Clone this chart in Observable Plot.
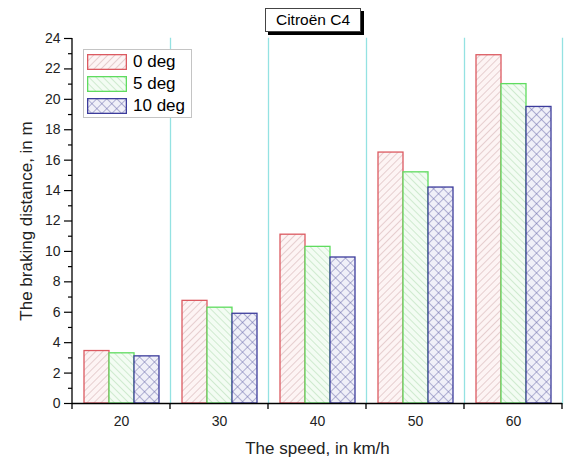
<!DOCTYPE html>
<html>
<head>
<meta charset="utf-8">
<script src="https://cdn.jsdelivr.net/npm/d3@7"></script>
<script src="https://cdn.jsdelivr.net/npm/@observablehq/plot@0.6"></script>
<style>
  body { margin: 0; background: #fff; font-family: Arial, "Liberation Sans", sans-serif; }
  #wrap { position: relative; width: 569px; height: 461px; overflow: hidden; }
  #title { position: absolute; left: 265px; top: 8px; width: 94px; height: 22px; border: 1px solid #444;
    background: #fff; box-shadow: 3px 3px 0 #000; font-size: 15.5px; line-height: 22px; text-align: center; color: #000; }
  #legend { position: absolute; left: 83px; top: 49px; width: 107px; height: 67px; border: 1px solid #c4c4c4;
    background: #fff; }
  .row { position: absolute; left: 3px; height: 16px; display: flex; align-items: center; }
  .row span { margin-left: 6px; font-size: 17px; color: #000; }
</style>
</head>
<body>
<svg width="0" height="0" style="position:absolute">
  <defs>
    <pattern id="hatch0" patternUnits="userSpaceOnUse" width="5" height="5" patternTransform="rotate(45)">
      <rect width="5" height="5" fill="#fdf4f4"></rect>
      <line x1="0" y1="0" x2="0" y2="5" stroke="#cfa9aa" stroke-width="1"></line>
    </pattern>
    <pattern id="hatch1" patternUnits="userSpaceOnUse" width="5" height="5" patternTransform="rotate(-45)">
      <rect width="5" height="5" fill="#f3fcf3"></rect>
      <line x1="0" y1="0" x2="0" y2="5" stroke="#acd9ac" stroke-width="1"></line>
    </pattern>
    <pattern id="hatch2" patternUnits="userSpaceOnUse" width="7" height="7" patternTransform="rotate(45)">
      <rect width="7" height="7" fill="#f0f0f8"></rect>
      <line x1="0" y1="0" x2="0" y2="7" stroke="#6c6cac" stroke-width="1"></line>
      <line x1="0" y1="0" x2="7" y2="0" stroke="#6c6cac" stroke-width="1"></line>
    </pattern>
  </defs>
</svg>
<div id="wrap"></div>
<script>
const speeds = [20, 30, 40, 50, 60];
const series = ["0 deg", "5 deg", "10 deg"];
const dist0 = [3.45, 6.75, 11.1, 16.5, 22.9];
const dist5 = [3.3, 6.3, 10.3, 15.2, 21.0];
const dist10 = [3.1, 5.9, 9.6, 14.2, 19.5];
const yTicks = [0, 2, 4, 6, 8, 10, 12, 14, 16, 18, 20, 22, 24];
const yMinorTicks = [1, 3, 5, 7, 9, 11, 13, 15, 17, 19, 21, 23];
const titleText = "Citroën C4";
const xLabel = "The speed, in km/h";
const yLabel = "The braking distance, in m";

const seriesValues = [dist0, dist5, dist10];
const rows = series.flatMap((s, i) => speeds.map((v, j) => ({speed: v, deg: s, dist: seriesValues[i][j]})));
const fills = ["url(#hatch0)", "url(#hatch1)", "url(#hatch2)"];
const strokes = ["#dc5a61", "#5fdc5f", "#3c3c9c"];

const plot = Plot.plot({
  width: 569,
  height: 461,
  marginLeft: 71,
  marginRight: 7,
  marginTop: 38,
  marginBottom: 58,
  style: {fontFamily: "Arial, 'Liberation Sans', sans-serif", fontSize: "14px", background: "#fff", color: "#000", overflow: "visible"},
  fx: {domain: speeds, padding: 0, label: null},
  x: {domain: series, paddingInner: 0, paddingOuter: 0.385, axis: null},
  y: {domain: [0, 24], axis: null},
  marks: [
    Plot.frame({anchor: "right", stroke: "#94e2e2", strokeWidth: 1.3}),
    ...series.map((s, i) => Plot.barY(rows.filter(d => d.deg === s), {
      fx: "speed", x: "deg", y: "dist", fill: fills[i], stroke: strokes[i], strokeWidth: 1.3
    })),
    Plot.ruleY([0], {stroke: "#000", strokeWidth: 1.3}),
    Plot.axisY({ticks: yTicks, tickSize: 8, tickPadding: 4, fontSize: 14, fill: "#222", label: yLabel, labelAnchor: "center", labelArrow: "none", labelOffset: 53, strokeWidth: 1.2}),
    Plot.axisY({ticks: yMinorTicks, tickSize: 4, tickFormat: () => "", label: null, strokeWidth: 1.2}),
    Plot.axisFx({anchor: "bottom", tickSize: 0, tickPadding: 13, fontSize: 14, fill: "#222", label: xLabel, labelAnchor: "center", labelArrow: "none", labelOffset: 50})
  ]
});

// axis label sizes (and strip any arrow)
d3.select(plot).selectAll('g[aria-label="y-axis label"] text, g[aria-label="fx-axis label"] text')
  .attr("font-size", 17)
  .each(function() { this.textContent = this.textContent.replace(/\s*[↑→↓←]\s*/g, ""); });

// y-axis line and x-axis boundary ticks from the library's scales
const fx = plot.scale("fx");
const ys = plot.scale("y");
const y0 = ys.apply(0), yTop = ys.apply(24);
const g = d3.select(plot).append("g").attr("stroke", "#000").attr("stroke-width", 1.3);
const left = fx.apply(speeds[0]);
g.append("line").attr("x1", left).attr("x2", left).attr("y1", yTop).attr("y2", y0 + 6);
speeds.forEach(s => {
  const xb = fx.apply(s) + fx.bandwidth;
  g.append("line").attr("x1", xb).attr("x2", xb).attr("y1", y0).attr("y2", y0 + 6);
});

const wrap = document.getElementById("wrap");
wrap.appendChild(plot);

const t = document.createElement("div");
t.id = "title";
t.textContent = titleText;
wrap.appendChild(t);

const legend = document.createElement("div");
legend.id = "legend";
series.forEach((s, i) => {
  const row = document.createElement("div");
  row.className = "row";
  row.style.top = (4 + i * 22) + "px";
  row.innerHTML = `<svg width="40" height="16"><rect x="0.65" y="0.65" width="38.7" height="14.7" fill="${fills[i]}" stroke="${strokes[i]}" stroke-width="1.3"></rect></svg><span></span>`;
  row.querySelector("span").textContent = s;
  legend.appendChild(row);
});
wrap.appendChild(legend);
</script>
</body>
</html>
